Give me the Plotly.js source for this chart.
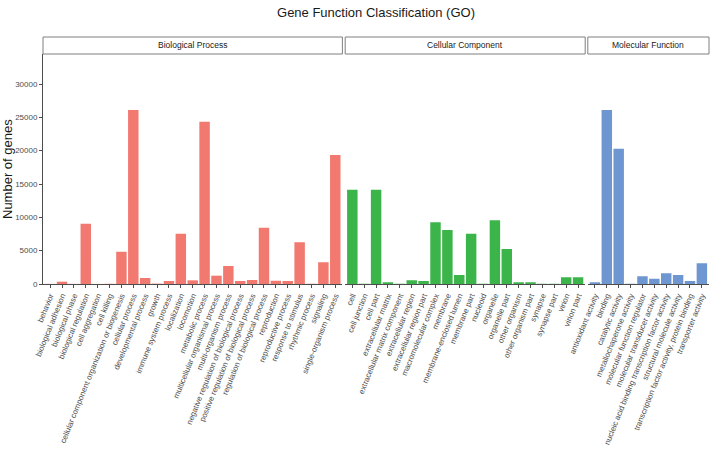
<!DOCTYPE html>
<html>
<head>
<meta charset="utf-8">
<script src="https://cdn.plot.ly/plotly-3.0.1.min.js"></script>
<style>html,body{margin:0;padding:0;background:#fff;}#chart{width:714px;height:456px;}</style>
</head>
<body>
<div id="chart"></div>
<script>
const groups = ["Biological Process", "Cellular Component", "Molecular Function"];

const bpTerms = ["behavior", "biological adhesion", "biological phase", "biological regulation", "cell aggregation", "cell killing", "cellular component organization or biogenesis", "cellular process", "developmental process", "growth", "immune system process", "localization", "locomotion", "metabolic process", "multicellular organismal process", "multi-organism process", "negative regulation of biological process", "positive regulation of biological process", "regulation of biological process", "reproduction", "reproductive process", "response to stimulus", "rhythmic process", "signaling", "single-organism process"];
const bpCounts = [20, 350, 20, 9050, 10, 30, 4850, 26100, 900, 60, 450, 7550, 550, 24350, 1250, 2700, 450, 600, 8450, 500, 450, 6250, 20, 3250, 19350];

const ccTerms = ["cell", "cell junction", "cell part", "extracellular matrix", "extracellular matrix component", "extracellular region", "extracellular region part", "macromolecular complex", "membrane", "membrane-enclosed lumen", "membrane part", "nucleoid", "organelle", "organelle part", "other organism", "other organism part", "synapse", "synapse part", "virion", "virion part"];
const ccCounts = [14150, 40, 14150, 250, 20, 550, 450, 9250, 8100, 1350, 7550, 30, 9550, 5250, 250, 250, 20, 20, 1000, 1000];

const mfTerms = ["antioxidant activity", "binding", "catalytic activity", "metallochaperone activity", "molecular function regulator", "molecular transducer activity", "nucleic acid binding transcription factor activity", "structural molecule activity", "transcription factor activity, protein binding", "transporter activity"];
const mfCounts = [250, 26100, 20300, 20, 1150, 800, 1600, 1350, 450, 3100];

const yTicks = [0, 5000, 10000, 15000, 20000, 25000, 30000];

const colors = ["#F2796F", "#3BB44A", "#6E96D1"];
const narrow = "Liberation Sans Narrow, Arial Narrow, Liberation Sans, Arial, sans-serif";
const axisGrey = "#4D4D4D";

const W = 714, H = 456;
const mL = 43, mR = 5, mT = 54, mB = 172;
const pw = W - mL - mR, ph = H - mT - mB;
const domains = [
  [0, (342.4 - mL) / pw],
  [(345.2 - mL) / pw, (585.2 - mL) / pw],
  [(587.8 - mL) / pw, 1]
];
const termSets = [bpTerms, ccTerms, mfTerms];
const countSets = [bpCounts, ccCounts, mfCounts];
const axNames = ["x", "x2", "x3"];

const traces = termSets.map((terms, i) => ({
  type: "bar",
  x: terms,
  y: countSets[i],
  xaxis: axNames[i],
  yaxis: "y",
  marker: {color: colors[i], line: {width: 0}},
  hoverinfo: "x+y",
  showlegend: false
}));

function xAxis(i) {
  return {
    domain: domains[i],
    type: "category",
    range: [-0.6, termSets[i].length - 0.4],
    anchor: "y",
    showgrid: false,
    zeroline: false,
    showline: true,
    linecolor: axisGrey,
    linewidth: 1,
    ticks: "outside",
    ticklen: 3,
    tickwidth: 1,
    tickcolor: axisGrey,
    tickangle: -68,
    tickfont: {family: narrow, size: 7.9, color: axisGrey},
    automargin: false,
    fixedrange: true
  };
}

const stripTop = 1 + 17 / ph;
const shapes = domains.map(d => ({
  type: "rect", xref: "paper", yref: "paper",
  x0: d[0], x1: d[1], y0: 1, y1: stripTop,
  line: {color: "#7F7F7F", width: 1}, fillcolor: "#FFFFFF", layer: "above"
}));
const annotations = domains.map((d, i) => ({
  xref: "paper", yref: "paper", x: (d[0] + d[1]) / 2, y: (1 + stripTop) / 2,
  text: groups[i], showarrow: false, xanchor: "center", yanchor: "middle",
  font: {family: narrow, size: 8.5, color: "#1A1A1A"}
}));
annotations.push({
  xref: "paper", yref: "paper", x: -33 / pw, y: 0.5, xshift: -3,
  text: "Number of genes", textangle: -90, showarrow: false,
  xanchor: "center", yanchor: "middle",
  font: {family: "Liberation Sans, Arial, sans-serif", size: 13, color: "#1A1A1A"}
});

const layout = {
  width: W, height: H,
  margin: {l: mL, r: mR, t: mT, b: mB, pad: 0},
  paper_bgcolor: "#FFFFFF", plot_bgcolor: "#FFFFFF",
  bargap: 0.12,
  title: {
    text: "Gene Function Classification (GO)",
    x: 0.5, xref: "paper", y: 1 - 12 / H, yref: "container", yanchor: "middle",
    font: {family: narrow, size: 13, color: "#1A1A1A"}
  },
  xaxis: xAxis(0), xaxis2: xAxis(1), xaxis3: xAxis(2),
  yaxis: {
    range: [0, 34500],
    tickvals: yTicks,
    ticktext: yTicks.map(String),
    showgrid: false, zeroline: false,
    showline: true, linecolor: axisGrey, linewidth: 1,
    ticks: "outside", ticklen: 3, tickcolor: axisGrey,
    tickfont: {family: narrow, size: 8, color: axisGrey},
    automargin: false, fixedrange: true
  },
  shapes: shapes,
  annotations: annotations
};

Plotly.newPlot("chart", traces, layout, {displayModeBar: false, staticPlot: true});
</script>
</body>
</html>
